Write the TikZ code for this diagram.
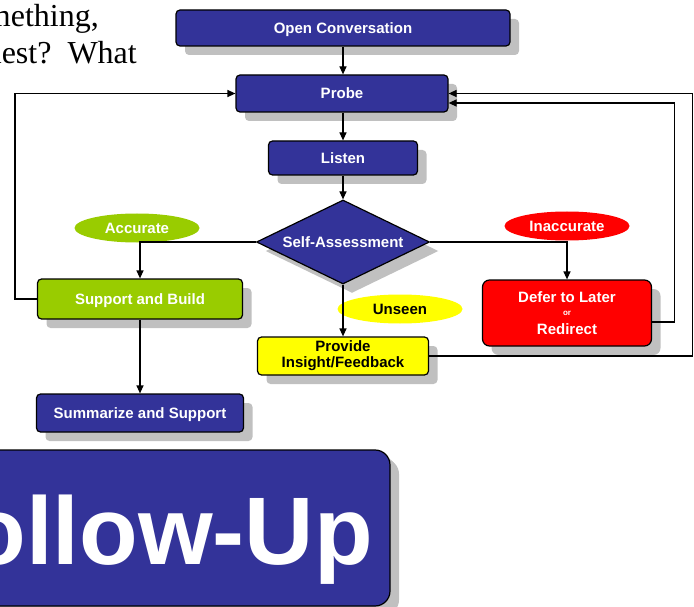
\documentclass[tikz,border=0pt]{standalone}
\usepackage{fontspec}
\setmainfont{Liberation Serif}
\newfontfamily\labelfont{Liberation Sans}
\usetikzlibrary{arrows.meta,shapes.geometric,shadows}

\definecolor{flowblue}{HTML}{333399}
\definecolor{flowgreen}{HTML}{99CC00}
\definecolor{flowred}{HTML}{FF0000}
\definecolor{flowyellow}{HTML}{FFFF00}
\definecolor{shadowgray}{HTML}{C0C0C0}

\tikzset{
  boxshadow/.style={drop shadow={shadow xshift=#1, shadow yshift=-#1, fill=shadowgray, opacity=1}},
  boxshadow/.default=9pt,
  labeltext/.style={font=\labelfont\bfseries\fontsize{15}{16}\selectfont},
  oneline/.style={text height=12pt, text depth=1.3pt},
  stepbox/.style={draw=black, line width=1.2pt, rounded corners=4pt, inner sep=0pt,
    align=center, fill=flowblue, text=white, labeltext, boxshadow},
  decision/.style={diamond, aspect=2.06, draw=black, line width=1.2pt, inner sep=0pt,
    fill=flowblue, text=white, labeltext, oneline, boxshadow},
  tag/.style={ellipse, inner sep=0pt, minimum width=125pt, minimum height=29pt,
    text=white, labeltext, oneline},
  flow/.style={line width=1.2pt, -{Triangle[length=8pt,width=7pt]}},
  prose/.style={inner sep=0pt, font=\fontsize{32}{37}\selectfont\frenchspacing}
}

\begin{document}
\begin{tikzpicture}[x=1pt, y=-1pt]
\useasboundingbox (0,0) rectangle (694,607);
\clip (0,0) rectangle (694,607);

% paragraph text running in at the top left
\node[prose, anchor=base east] (line1) at (99,27) {something,};
\node[prose, anchor=base east] (line2) at (137,64) {request?~~What};

% process steps
\node[stepbox, oneline, minimum width=334pt, minimum height=36pt] (open) at (343,28) {Open Conversation};
\node[stepbox, oneline, minimum width=212pt, minimum height=37pt] (probe) at (342,93.5) {Probe};
\node[stepbox, oneline, minimum width=149pt, minimum height=34pt] (listen) at (343,158) {Listen};
\node[decision, minimum width=173pt, minimum height=84pt] (assess) at (343,242) {Self-Assessment};
\node[stepbox, oneline, fill=flowgreen, minimum width=205pt, minimum height=40pt] (build) at (140,299) {Support and Build};
\node[stepbox, oneline, minimum width=207pt, minimum height=38pt] (summ) at (140,413) {Summarize and Support};
\node[stepbox, fill=flowred, rounded corners=7pt, minimum width=169pt, minimum height=66pt] (defer) at (567,313)
  {Defer to Later\\[-2.5pt]{\fontsize{8}{8}\selectfont or}\\[2.5pt]Redirect};
\node[stepbox, fill=flowyellow, text=black, minimum width=171pt, minimum height=38pt] (insight) at (343,356)
  {Provide\\Insight/Feedback};

% title banner
\node[stepbox, rounded corners=15pt, boxshadow=7pt, minimum width=450pt, minimum height=156pt] (banner) at (165,528) {};
\node[inner sep=0pt, anchor=base east, text=white,
  font=\labelfont\bfseries\fontsize{96}{100}\selectfont] (bannertext) at (373,564) {Follow-Up};

% outcome labels
\node[tag, fill=flowgreen] (acc) at (137,228) {Accurate};
\node[tag, fill=flowred] (inacc) at (567,226) {Inaccurate};
\node[tag, fill=flowyellow, text=black] (unseen) at (400,309) {Unseen};

% connectors
\draw[flow] (open.south -| assess.north) -- (assess.north |- probe.north);
\draw[flow] (probe.south -| assess.north) -- (listen.north);
\draw[flow] (listen.south) -- (assess.north);
\draw[flow] (assess.west) -| (build.north);
\draw[flow] (assess.east) -| (defer.north);
\draw[flow] (assess.south) -- (insight.north);
\draw[flow] (build.south) -- (summ.north);
\draw[flow] (build.west) -- ++(-22,0) |- (probe.west);
\draw[flow] ([yshift=-9pt]defer.east) -- ++(22,0) |- ([yshift=-9.5pt]probe.east);
\draw[flow] (insight.east) -- ++(263,0) |- (probe.east);
\end{tikzpicture}
\end{document}
